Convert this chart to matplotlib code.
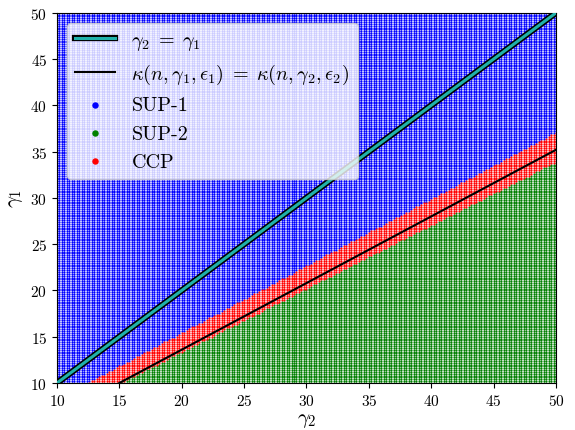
import numpy as np
import matplotlib
matplotlib.use("Agg")
import matplotlib.pyplot as plt
import matplotlib.patheffects as pe

plt.rcParams["font.family"] = "serif"
plt.rcParams["font.serif"] = ["cmr10"]
plt.rcParams["mathtext.fontset"] = "cm"
plt.rcParams["axes.formatter.use_mathtext"] = True

# grid of gamma values
gamma2_vals = np.arange(10, 50.01, 0.2)
gamma1_vals = np.arange(10, 50.01, 0.2)

# boundaries (gamma2 -> gamma1)
band_x = [10, 50]
ccp_upper = [8.2, 37.1]   # top edge of red band
ccp_lower = [6.5, 33.9]   # bottom edge of red band (top of green)

# kappa(n, g1, e1) = kappa(n, g2, e2) line
kappa_x = [15.0, 50.0]
kappa_y = [10.0, 35.2]

# equal line
eq_x = [10, 50]
eq_y = [10, 50]

G2, G1 = np.meshgrid(gamma2_vals, gamma1_vals)
up = np.interp(G2, band_x, ccp_upper)
lo = np.interp(G2, band_x, ccp_lower)
sup1 = G1 > up
sup2 = G1 < lo
ccp = ~sup1 & ~sup2

fig, ax = plt.subplots(figsize=(5.75, 4.31), dpi=100)
fig.subplots_adjust(left=0.099, right=0.967, top=0.968, bottom=0.109)

ms = 2.4
ax.scatter(G2[sup1], G1[sup1], s=ms, c="blue", marker="o", linewidths=0, label="SUP-1", zorder=1)
ax.scatter(G2[sup2], G1[sup2], s=ms, c="green", marker="o", linewidths=0, label="SUP-2", zorder=1)
ax.scatter(G2[ccp], G1[ccp], s=ms, c="red", marker="o", linewidths=0, label="CCP", zorder=1)

ax.plot(eq_x, eq_y, color="lightseagreen", lw=2.2, zorder=3,
        path_effects=[pe.Stroke(linewidth=4.5, foreground="black"), pe.Normal()],
        label=r"$\gamma_2\;=\;\gamma_1$")
ax.plot(kappa_x, kappa_y, color="black", lw=1.5, zorder=3,
        label=r"$\kappa(n,\gamma_1,\epsilon_1)\;=\;\kappa(n,\gamma_2,\epsilon_2)$")

ax.set_xlim(10, 50)
ax.set_ylim(10, 50)
ax.set_xlabel(r"$\gamma_2$", fontsize=15, labelpad=2)
ax.set_ylabel(r"$\gamma_1$", fontsize=15, labelpad=4)
ax.tick_params(labelsize=11)

handles, labels = ax.get_legend_handles_labels()
order = [3, 4, 0, 1, 2]
leg = ax.legend([handles[i] for i in order], [labels[i] for i in order],
                loc="upper left", fontsize=14.5, markerscale=3, framealpha=0.8)

fig.savefig("out.png", dpi=100)
